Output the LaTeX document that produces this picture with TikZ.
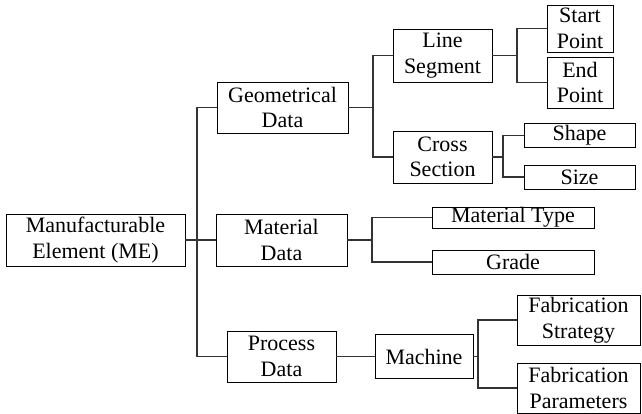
\documentclass[tikz,border=0pt]{standalone}
\usepackage{fontspec}
\setmainfont{Liberation Serif}
\usetikzlibrary{positioning}

\tikzset{
  box/.style={draw, line width=0.9pt, inner sep=0pt, align=center,
    font=\fontsize{22}{25.5}\selectfont},
  link/.style={line width=1.4pt, draw=black!80}
}

\begin{document}
\begin{tikzpicture}[x=1pt,y=-1pt]
  \useasboundingbox (0,0) rectangle (642,414);
  % boxes
  \node[box, minimum width=179pt, minimum height=52pt] (me) at (95.5,240) {Manufacturable\\Element (ME)};
  \node[box, minimum width=131pt, minimum height=51pt] (geo) at (282.5,107.5) {Geometrical\\Data};
  \node[box, minimum width=131pt, minimum height=52pt] (mat) at (281.5,240) {Material\\Data};
  \node[box, minimum width=109pt, minimum height=51pt] (proc) at (281.5,356.5) {Process\\Data};
  \node[box, minimum width=99pt, minimum height=53pt] (lineseg) at (442.5,55.5) {Line\\Segment};
  \node[box, minimum width=99pt, minimum height=52pt] (cross) at (442.5,157) {Cross\\Section};
  \node[box, minimum width=66pt, minimum height=47pt] (start) at (580,28.5) {Start\\Point};
  \node[box, minimum width=66pt, minimum height=51pt] (end) at (580,82.5) {End\\Point};
  \node[box, minimum width=111pt, minimum height=24pt] (shape) at (579.5,135.5) {Shape};
  \node[box, minimum width=111pt, minimum height=24pt] (size) at (579.5,177) {Size};
  \node[box, minimum width=162pt, minimum height=21pt] (mtype) at (513,217.5) {Material Type};
  \node[box, minimum width=162pt, minimum height=24pt] (grade) at (513,262) {Grade};
  \node[box, minimum width=98pt, minimum height=44pt] (mach) at (424,356.5) {Machine};
  \node[box, minimum width=123pt, minimum height=50pt] (fstrat) at (578.5,320) {Fabrication\\Strategy};
  \node[box, minimum width=123pt, minimum height=50pt] (fparam) at (578.5,388) {Fabrication\\Parameters};

  % fork points
  \coordinate (f0) at (197,240);
  \coordinate (f1) at (373,107.5);
  \coordinate (f2) at (517,55.5);
  \coordinate (f3) at (503,157);
  \coordinate (f4) at (372,240);
  \coordinate (f5) at (478,356.5);

  % connectors
  \draw[link] (me.east) -- (f0) -- (mat.west);
  \draw[link] (f0) |- (geo.west);
  \draw[link] (f0) |- (proc.west);
  \draw[link] (geo.east) -- (f1);
  \draw[link] (f1) |- (lineseg.west);
  \draw[link] (f1) |- (cross.west);
  \draw[link] (lineseg.east) -- (f2);
  \draw[link] (f2) |- (start.west);
  \draw[link] (f2) |- (end.west);
  \draw[link] (cross.east) -- (f3);
  \draw[link] (f3) |- (shape.west);
  \draw[link] (f3) |- (size.west);
  \draw[link] (mat.east) -- (f4);
  \draw[link] (f4) |- (mtype.west);
  \draw[link] (f4) |- (grade.west);
  \draw[link] (proc.east) -- (mach.west);
  \draw[link] (mach.east) -- (f5);
  \draw[link] (f5) |- (fstrat.west);
  \draw[link] (f5) |- (fparam.west);
\end{tikzpicture}
\end{document}
